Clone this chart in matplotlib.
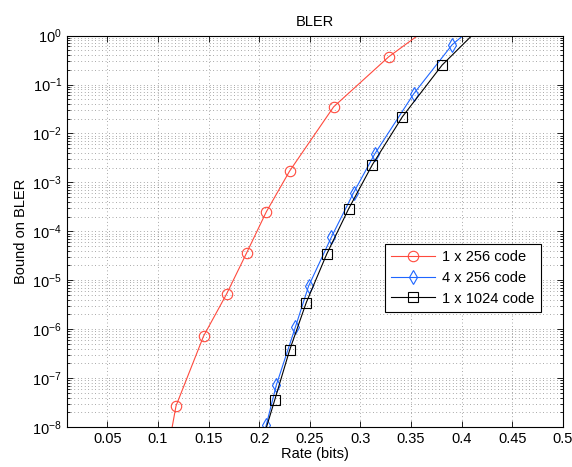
import numpy as np
import matplotlib
matplotlib.use("Agg")
import matplotlib.pyplot as plt
from matplotlib.ticker import LogLocator, NullFormatter, FixedLocator

plt.rcParams["font.family"] = ["Liberation Sans", "DejaVu Sans"]
plt.rcParams["mathtext.default"] = "regular"

# values (rate in bits, BLER bound)
rate_256 = [0.105, 0.1178, 0.145, 0.1677, 0.1875, 0.207, 0.23, 0.2735, 0.328, 0.385]
bler_256 = [9.5e-10, 2.7e-8, 7.2e-7, 5.2e-6, 3.6e-5, 2.5e-4, 1.7e-3, 3.5e-2, 3.7e-1, 2.7]

rate_4x256 = [0.198, 0.207, 0.2169, 0.2357, 0.2488, 0.2713, 0.2933, 0.3141, 0.3527, 0.3906, 0.43]
bler_4x256 = [2e-9, 1.1e-8, 7.2e-8, 1.1e-6, 7.6e-6, 7.6e-5, 6.2e-4, 3.8e-3, 6.5e-2, 6.5e-1, 3.2]

rate_1024 = [0.2, 0.2152, 0.23, 0.2465, 0.2669, 0.2884, 0.3118, 0.3415, 0.3807, 0.42]
bler_1024 = [3.2e-9, 3.5e-8, 3.7e-7, 3.5e-6, 3.5e-5, 2.9e-4, 2.3e-3, 2.2e-2, 2.5e-1, 1.6]

labels = ["1 x 256 code", "4 x 256 code", "1 x 1024 code"]
xticks = [0.05, 0.1, 0.15, 0.2, 0.25, 0.3, 0.35, 0.4, 0.45, 0.5]
xtick_labels = ["0.05", "0.1", "0.15", "0.2", "0.25", "0.3", "0.35", "0.4", "0.45", "0.5"]

FS = 10.5

fig = plt.figure(figsize=(5.72, 4.67), dpi=100)
ax = fig.add_axes([0.117, 0.0857, 0.867, 0.838])

ax.semilogy(rate_256, bler_256, "-o", color="#ff4a3d", lw=0.8, ms=7.5,
            mfc="none", mec="#ff4a3d", mew=0.8, label=labels[0])
ax.semilogy(rate_4x256, bler_4x256, "-d", color="#1f66ff", lw=0.8, ms=7.5,
            mfc="none", mec="#1f66ff", mew=0.8, label=labels[1])
ax.semilogy(rate_1024, bler_1024, "-s", color="black", lw=0.8, ms=6.5,
            mfc="none", mec="black", mew=0.8, label=labels[2])

ax.set_xlim(0.01, 0.5)
ax.set_ylim(1e-8, 1)
ax.xaxis.set_major_locator(FixedLocator(xticks))
ax.set_xticklabels(xtick_labels)
ax.yaxis.set_major_locator(LogLocator(base=10, numticks=20))
ax.yaxis.set_minor_locator(LogLocator(base=10, subs=np.arange(2, 10), numticks=20))
ax.yaxis.set_minor_formatter(NullFormatter())

grid_kw = dict(color="0.35", lw=0.5, linestyle=(0, (1, 4)))
ax.grid(True, which="major", axis="both", **grid_kw)
ax.grid(True, which="minor", axis="y", **grid_kw)
ax.set_axisbelow(True)

ax.tick_params(which="both", direction="in", top=True, right=True, labelsize=FS, width=0.6)
ax.tick_params(which="major", length=4)
ax.tick_params(which="minor", length=2)
for s in ax.spines.values():
    s.set_linewidth(0.8)

ax.set_title("BLER", fontsize=FS, pad=7)
ax.set_xlabel("Rate (bits)", fontsize=FS, labelpad=1)
ax.set_ylabel("Bound on BLER", fontsize=FS, labelpad=3)

leg = ax.legend(loc="upper left", bbox_to_anchor=(0.641, 0.468), borderaxespad=0,
                fontsize=FS, fancybox=False, framealpha=1, edgecolor="black",
                handlelength=3.0, borderpad=0.45, labelspacing=0.45, handletextpad=0.5)
leg.get_frame().set_linewidth(0.8)

fig.savefig("out.png", dpi=100)
